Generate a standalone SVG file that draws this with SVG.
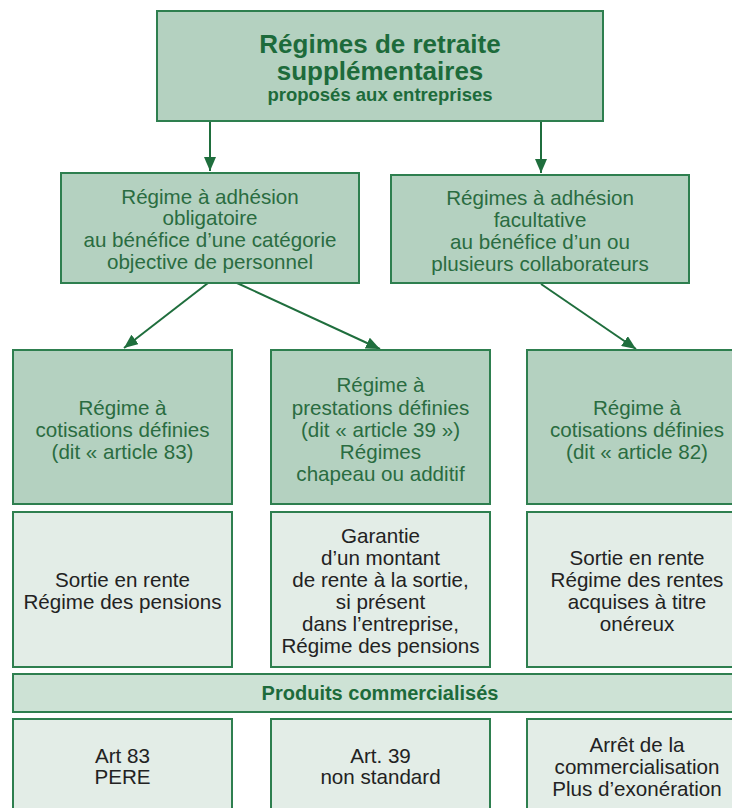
<svg xmlns="http://www.w3.org/2000/svg" width="732" height="808" viewBox="0 0 732 808">
<style>
.dark{fill:#b4d1c0;stroke:#2e7f4f;stroke-width:2}
.light{fill:#e3ede7;stroke:#2e7f4f;stroke-width:2}
.band{fill:#cde2d5;stroke:#2e7f4f;stroke-width:2}
text{font-family:"Liberation Sans",Arial,sans-serif;text-anchor:middle}
.t{font-size:26px;font-weight:bold;fill:#1d6b3b}
.st{font-size:18.5px;font-weight:bold;fill:#1d6b3b}
.g{font-size:20.6px;fill:#2a6c41}
.k{font-size:20.6px;fill:#222}
.b{font-size:20px;font-weight:bold;fill:#1d6b3b}
.c{stroke:#1f6e3d;stroke-width:2;fill:none;marker-end:url(#ah)}
</style>
<defs>
<marker id="ah" viewBox="0 0 14 12" refX="14" refY="6" markerWidth="14" markerHeight="12" orient="auto" markerUnits="userSpaceOnUse">
<path d="M0,0 L14,6 L0,12 Z" fill="#1f6e3d"/>
</marker>
</defs>
<rect width="732" height="808" fill="#ffffff"/>
<g id="connectors">
<line class="c" x1="210" y1="121" x2="210" y2="171"/>
<line class="c" x1="541" y1="121" x2="541" y2="173"/>
<line class="c" x1="208" y1="283" x2="124" y2="348"/>
<line class="c" x1="237" y1="283" x2="380" y2="349"/>
<line class="c" x1="541" y1="284" x2="636" y2="349"/>
</g>
<g id="top">
<rect class="dark" x="157" y="11" width="446" height="110"/>
<text class="t" x="380" y="53">Régimes de retraite</text>
<text class="t" x="380" y="80">supplémentaires</text>
<text class="st" x="380" y="101">proposés aux entreprises</text>
</g>
<g id="obligatoire">
<rect class="dark" x="61" y="173" width="298" height="110"/>
<text class="g" x="210" y="204">Régime à adhésion</text>
<text class="g" x="210" y="225">obligatoire</text>
<text class="g" x="210" y="247">au bénéfice d’une catégorie</text>
<text class="g" x="210" y="269">objective de personnel</text>
</g>
<g id="facultative">
<rect class="dark" x="391" y="175" width="298" height="108"/>
<text class="g" x="540" y="205">Régimes à adhésion</text>
<text class="g" x="540" y="227">facultative</text>
<text class="g" x="540" y="249">au bénéfice d’un ou</text>
<text class="g" x="540" y="271">plusieurs collaborateurs</text>
</g>
<g id="art83">
<rect class="dark" x="13" y="350" width="219" height="154"/>
<text class="g" x="122.5" y="415">Régime à</text>
<text class="g" x="122.5" y="437">cotisations définies</text>
<text class="g" x="122.5" y="459">(dit « article 83)</text>
</g>
<g id="art39">
<rect class="dark" x="271" y="350" width="219" height="154"/>
<text class="g" x="380.5" y="392">Régime à</text>
<text class="g" x="380.5" y="415">prestations définies</text>
<text class="g" x="380.5" y="437">(dit « article 39 »)</text>
<text class="g" x="380.5" y="459">Régimes</text>
<text class="g" x="380.5" y="481">chapeau ou additif</text>
</g>
<g id="art82">
<rect class="dark" x="527" y="350" width="219" height="154"/>
<text class="g" x="637" y="415">Régime à</text>
<text class="g" x="637" y="437">cotisations définies</text>
<text class="g" x="637" y="459">(dit « article 82)</text>
</g>
<g id="sortie83">
<rect class="light" x="13" y="512" width="219" height="155"/>
<text class="k" x="122.5" y="587">Sortie en rente</text>
<text class="k" x="122.5" y="609">Régime des pensions</text>
</g>
<g id="garantie39">
<rect class="light" x="271" y="512" width="219" height="155"/>
<text class="k" x="380.5" y="543">Garantie</text>
<text class="k" x="380.5" y="565">d’un montant</text>
<text class="k" x="380.5" y="587">de rente à la sortie,</text>
<text class="k" x="380.5" y="609">si présent</text>
<text class="k" x="380.5" y="631">dans l’entreprise,</text>
<text class="k" x="380.5" y="653">Régime des pensions</text>
</g>
<g id="sortie82">
<rect class="light" x="527" y="512" width="219" height="155"/>
<text class="k" x="637" y="565">Sortie en rente</text>
<text class="k" x="637" y="587">Régime des rentes</text>
<text class="k" x="637" y="609">acquises à titre</text>
<text class="k" x="637" y="631">onéreux</text>
</g>
<g id="produits">
<rect class="band" x="13" y="674" width="733" height="38"/>
<text class="b" x="380" y="700">Produits commercialisés</text>
</g>
<g id="prod83">
<rect class="light" x="13" y="719" width="219" height="110"/>
<text class="k" x="122.5" y="763">Art 83</text>
<text class="k" x="122.5" y="784">PERE</text>
</g>
<g id="prod39">
<rect class="light" x="271" y="719" width="219" height="110"/>
<text class="k" x="380.5" y="763">Art. 39</text>
<text class="k" x="380.5" y="784">non standard</text>
</g>
<g id="prod82">
<rect class="light" x="527" y="719" width="219" height="110"/>
<text class="k" x="637" y="752">Arrêt de la</text>
<text class="k" x="637" y="774">commercialisation</text>
<text class="k" x="637" y="796">Plus d’exonération</text>
</g>
</svg>
